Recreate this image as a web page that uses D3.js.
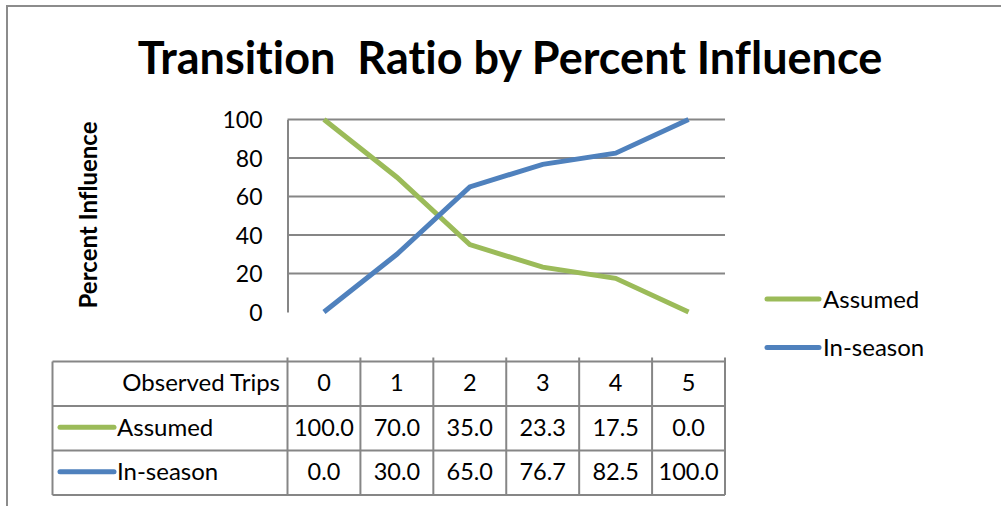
<!DOCTYPE html>
<html>
<head>
<meta charset="utf-8">
<script src="https://cdn.jsdelivr.net/npm/d3@7"></script>
<style>
  body { margin: 0; background: #fff; }
  text { font-family: Lato, "Open Sans", sans-serif; fill: #000; font-variant-ligatures: none; }
</style>
</head>
<body>
<div id="chart"></div>
<script>
// data
var trips = ["0", "1", "2", "3", "4", "5"];
var assumed = [100.0, 70.0, 35.0, 23.3, 17.5, 0.0];
var inSeason = [0.0, 30.0, 65.0, 76.7, 82.5, 100.0];
var yTicks = [0, 20, 40, 60, 80, 100];

var series = [
    { name: "Assumed", values: assumed, color: "#9bbb59" },
    { name: "In-season", values: inSeason, color: "#4f81bd" }
];

var W = 1001, H = 506;
var svg = d3.select("#chart").append("svg")
    .attr("width", W)
    .attr("height", H);

// outer chart border
svg.append("rect")
    .attr("x", 7).attr("y", 6)
    .attr("width", W + 20).attr("height", H + 20)
    .attr("fill", "none")
    .attr("stroke", "#8c8c8c")
    .attr("stroke-width", 2);

// title
svg.append("text")
    .attr("x", 510).attr("y", 74)
    .attr("text-anchor", "middle")
    .style("font-size", "45px")
    .style("font-weight", "bold")
    .style("white-space", "pre")
    .text("Transition  Ratio by Percent Influence");

//----------------------------SCALES----------------------------//
var x = d3.scaleBand().domain(trips).range([287.5, 725]);
var y = d3.scaleLinear().domain([0, 100]).range([312, 119.5]);

// gridlines (no line at 0)
svg.append("g")
    .selectAll("line")
    .data(yTicks.filter(function(d) { return d > 0; }))
    .enter()
    .append("line")
    .attr("x1", x.range()[0]).attr("x2", x.range()[1])
    .attr("y1", function(d) { return y(d); })
    .attr("y2", function(d) { return y(d); })
    .attr("stroke", "#868686")
    .attr("stroke-width", 2);

// y axis
var yAxis = d3.axisLeft(y).tickValues(yTicks).tickSize(0).tickPadding(25);
var gy = svg.append("g")
    .attr("transform", "translate(" + x.range()[0] + ",0)")
    .call(yAxis);
gy.select(".domain").attr("stroke", "#868686").attr("stroke-width", 2);
gy.selectAll("text")
    .style("font-size", "23px")
    .style("font-family", "Lato, 'Open Sans', sans-serif")
    .attr("dy", "0.36em");

svg.append("text")
    .attr("transform", "translate(97,215) rotate(-90)")
    .attr("text-anchor", "middle")
    .style("font-size", "24px")
    .style("font-weight", "bold")
    .text("Percent Influence");

//----------------------------LINES-----------------------------//
var line = d3.line()
    .x(function(d, i) { return x(trips[i]) + x.bandwidth() / 2; })
    .y(function(d) { return y(d); });

svg.append("g")
    .selectAll("path")
    .data(series)
    .enter()
    .append("path")
    .attr("d", function(d) { return line(d.values); })
    .attr("fill", "none")
    .attr("stroke", function(d) { return d.color; })
    .attr("stroke-width", 5);

//----------------------------LEGEND----------------------------//
var legend = svg.append("g")
    .selectAll("g")
    .data(series)
    .enter()
    .append("g")
    .attr("transform", function(d, i) { return "translate(767," + (299 + i * 48.5) + ")"; });
legend.append("line")
    .attr("x1", 0).attr("x2", 52)
    .attr("stroke", function(d) { return d.color; })
    .attr("stroke-width", 5)
    .attr("stroke-linecap", "round");
legend.append("text")
    .attr("x", 56).attr("dy", "0.36em")
    .style("font-size", "24px")
    .text(function(d) { return d.name; });

//--------------------------DATA TABLE--------------------------//
var tableLeft = 52.5, tableTop = 361.5, rowH = 44.5;
var rows = [{ name: "Observed Trips", values: trips }].concat(series);
var tg = svg.append("g");

// horizontal rules
tg.selectAll("line.h")
    .data(d3.range(rows.length + 1))
    .enter()
    .append("line")
    .attr("x1", tableLeft).attr("x2", x.range()[1])
    .attr("y1", function(i) { return tableTop + i * rowH; })
    .attr("y2", function(i) { return tableTop + i * rowH; })
    .attr("stroke", "#868686")
    .attr("stroke-width", 2);

// vertical rules at band edges
var edges = trips.map(function(t) { return x(t); }).concat([x.range()[1]]);
tg.selectAll("line.v")
    .data(edges)
    .enter()
    .append("line")
    .attr("x1", function(d) { return d; }).attr("x2", function(d) { return d; })
    .attr("y1", tableTop - 4).attr("y2", tableTop + rows.length * rowH)
    .attr("stroke", "#868686")
    .attr("stroke-width", 2);
tg.append("line")
    .attr("x1", tableLeft).attr("x2", tableLeft)
    .attr("y1", tableTop).attr("y2", tableTop + rows.length * rowH)
    .attr("stroke", "#868686")
    .attr("stroke-width", 2);

// cell values
rows.forEach(function(r, ri) {
    var cy = tableTop + ri * rowH + rowH / 2 - 1;
    tg.selectAll("text.c" + ri)
        .data(r.values)
        .enter()
        .append("text")
        .attr("x", function(d, i) { return x(trips[i]) + x.bandwidth() / 2; })
        .attr("y", cy)
        .attr("dy", "0.36em")
        .attr("text-anchor", "middle")
        .style("font-size", "23.5px")
        .text(function(d) { return ri === 0 ? d : d.toFixed(1); });

    if (ri === 0) {
        tg.append("text")
            .attr("x", 280).attr("y", cy).attr("dy", "0.36em")
            .attr("text-anchor", "end")
            .style("font-size", "24px")
            .text(r.name);
    } else {
        tg.append("line")
            .attr("x1", 60).attr("x2", 114)
            .attr("y1", cy).attr("y2", cy)
            .attr("stroke", r.color)
            .attr("stroke-width", 5)
            .attr("stroke-linecap", "round");
        tg.append("text")
            .attr("x", 117).attr("y", cy).attr("dy", "0.36em")
            .style("font-size", "24px")
            .text(r.name);
    }
});
</script>
</body>
</html>
